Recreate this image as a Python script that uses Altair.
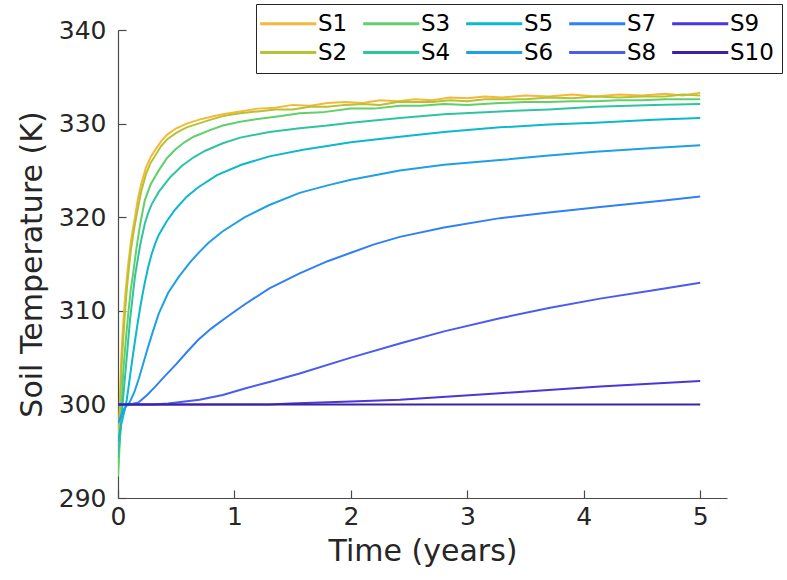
import altair as alt
import pandas as pd

# Soil temperature at ten depths (S1 = shallowest, S10 = deepest)
t_s1 = [0, 0.01, 0.02, 0.03, 0.045, 0.06, 0.075, 0.089, 0.11, 0.13, 0.146, 0.17, 0.20, 0.24, 0.28, 0.32,
        0.37, 0.42, 0.5, 0.59, 0.69, 0.79, 0.9, 1.05, 1.2, 1.35, 1.5, 1.65, 1.8, 1.95, 2.1, 2.25, 2.4,
        2.55, 2.7, 2.85, 3.0, 3.15, 3.3, 3.5, 3.7, 3.9, 4.1, 4.3, 4.5, 4.7, 4.85, 5.0]
k_s1 = [294.0, 298.0, 302.0, 305.5, 308.7, 311.3, 313.4, 315.1, 317.3, 318.9, 320.0, 321.9, 323.6, 325.3,
        326.4, 327.2, 328.1, 328.8, 329.5, 330.0, 330.4, 330.7, 331.0, 331.3, 331.6, 331.7, 332.0, 331.9,
        332.2, 332.3, 332.2, 332.5, 332.4, 332.6, 332.5, 332.8, 332.7, 332.9, 332.8, 333.0, 332.9, 333.1,
        332.9, 333.1, 333.0, 333.2, 333.0, 333.3]

t_s2 = [0, 0.01, 0.02, 0.03, 0.045, 0.06, 0.075, 0.089, 0.11, 0.13, 0.146, 0.17, 0.20, 0.24, 0.28, 0.32,
        0.37, 0.42, 0.5, 0.59, 0.69, 0.79, 0.9, 1.05, 1.2, 1.35, 1.5, 1.65, 1.8, 1.95, 2.1, 2.25, 2.4,
        2.55, 2.7, 2.85, 3.0, 3.15, 3.3, 3.5, 3.7, 3.9, 4.1, 4.3, 4.5, 4.7, 4.85, 5.0]
k_s2 = [293.0, 296.5, 300.5, 304.0, 307.0, 309.8, 312.2, 314.0, 316.4, 318.1, 319.3, 320.9, 322.8, 324.6,
        325.8, 326.6, 327.6, 328.3, 329.0, 329.6, 330.0, 330.4, 330.8, 331.1, 331.3, 331.5, 331.5, 331.8,
        331.8, 332.0, 332.1, 332.0, 332.3, 332.3, 332.3, 332.5, 332.4, 332.6, 332.6, 332.6, 332.8, 332.7,
        332.9, 332.8, 332.9, 332.9, 333.1, 333.0]

t_s3 = [0, 0.02, 0.045, 0.07, 0.089, 0.11, 0.13, 0.16, 0.19, 0.23, 0.28, 0.35, 0.42, 0.49, 0.57, 0.65,
        0.79, 0.9, 1.05, 1.2, 1.4, 1.56, 1.75, 2.0, 2.2, 2.42, 2.6, 2.8, 3.0, 3.28, 3.5, 3.7, 3.9, 4.1,
        4.3, 4.5, 4.7, 5.0]
k_s3 = [292.3, 297.0, 303.5, 307.3, 309.8, 312.3, 314.0, 316.8, 319.2, 321.8, 323.5, 325.0, 326.3, 327.2,
        328.0, 328.6, 329.3, 329.8, 330.2, 330.5, 330.8, 331.1, 331.2, 331.6, 331.6, 331.9, 331.9, 332.1,
        332.0, 332.2, 332.3, 332.3, 332.4, 332.4, 332.5, 332.5, 332.6, 332.6]

t_s4 = [0, 0.02, 0.045, 0.07, 0.103, 0.146, 0.19, 0.23, 0.26, 0.29, 0.35, 0.45, 0.55, 0.65, 0.75, 0.9,
        1.05, 1.3, 1.56, 1.8, 2.0, 2.42, 2.8, 3.28, 3.7, 4.1, 4.6, 5.0]
k_s4 = [294.3, 297.0, 300.8, 304.3, 309.0, 313.7, 317.0, 319.3, 320.5, 321.4, 322.7, 324.3, 325.5, 326.4,
        327.1, 327.9, 328.5, 329.1, 329.5, 329.8, 330.1, 330.6, 331.0, 331.3, 331.5, 331.8, 332.0, 332.1]

t_s5 = [0, 0.03, 0.06, 0.075, 0.09, 0.103, 0.125, 0.146, 0.17, 0.19, 0.21, 0.23, 0.26, 0.29, 0.32, 0.35,
        0.42, 0.49, 0.59, 0.69, 0.85, 1.06, 1.3, 1.59, 2.0, 2.42, 2.8, 3.28, 3.7, 4.1, 4.6, 5.0]
k_s5 = [296.0, 298.0, 299.5, 300.5, 301.8, 303.0, 305.0, 306.8, 308.8, 310.3, 311.7, 313.0, 314.7, 316.1,
        317.2, 318.1, 319.6, 320.8, 322.2, 323.2, 324.5, 325.6, 326.5, 327.2, 328.0, 328.6, 329.1, 329.6,
        329.9, 330.1, 330.4, 330.6]

t_s6 = [0, 0.05, 0.1, 0.14, 0.18, 0.22, 0.26, 0.3, 0.35, 0.43, 0.52, 0.62, 0.7, 0.78, 0.9, 1.09, 1.3,
        1.56, 1.8, 2.0, 2.42, 2.8, 3.28, 3.7, 4.1, 4.6, 5.0]
k_s6 = [298.0, 299.5, 300.2, 301.3, 302.8, 304.5, 306.2, 307.8, 309.7, 311.9, 313.6, 315.2, 316.3, 317.3,
        318.5, 320.0, 321.3, 322.6, 323.4, 324.0, 325.0, 325.6, 326.1, 326.6, 327.0, 327.4, 327.7]

t_s7 = [0, 0.1, 0.175, 0.25, 0.32, 0.40, 0.5, 0.6, 0.69, 0.8, 0.92, 1.09, 1.3, 1.56, 1.8, 2.0, 2.2, 2.42,
        2.8, 3.28, 3.7, 4.14, 4.71, 5.0]
k_s7 = [300.0, 300.0, 300.2, 301.0, 301.9, 303.0, 304.3, 305.7, 306.9, 308.1, 309.2, 310.7, 312.4, 314.0,
        315.3, 316.2, 317.1, 317.9, 318.9, 319.9, 320.5, 321.1, 321.8, 322.2]

t_s8 = [0, 0.3, 0.43, 0.7, 0.9, 1.09, 1.3, 1.56, 2.0, 2.42, 2.8, 3.28, 3.7, 4.14, 4.6, 5.0]
k_s8 = [300.0, 300.0, 300.1, 300.5, 301.0, 301.7, 302.4, 303.3, 305.0, 306.5, 307.8, 309.2, 310.3, 311.3,
        312.2, 313.0]

t_s9 = [0, 1.3, 1.48, 2.0, 2.42, 3.28, 4.14, 5.0]
k_s9 = [300.0, 300.0, 300.1, 300.3, 300.5, 301.2, 301.9, 302.5]

t_s10 = [0, 5.0]
k_s10 = [300.0, 300.0]

series_names = ["S1", "S2", "S3", "S4", "S5", "S6", "S7", "S8", "S9", "S10"]
series_colors = ["#F5B83A", "#B5C332", "#62CF6B", "#2FC4A0", "#0CB8CC",
                 "#1FA0E6", "#2F80F6", "#4A5BF0", "#4A36DC", "#3B23A2"]

times = [t_s1, t_s2, t_s3, t_s4, t_s5, t_s6, t_s7, t_s8, t_s9, t_s10]
temps = [k_s1, k_s2, k_s3, k_s4, k_s5, k_s6, k_s7, k_s8, k_s9, k_s10]

rows = []
for i, (name, ts, ks) in enumerate(zip(series_names, times, temps)):
    for j, (t, k) in enumerate(zip(ts, ks)):
        rows.append({"series": name, "idx": i, "step": j, "time": t, "temp": k})
df = pd.DataFrame(rows)

FONT = "DejaVu Sans"
INK = "#262626"
AXIS_GREY = "#4a4a4a"

x_scale = alt.Scale(domain=[0, 5.23], nice=False, zero=False)
y_scale = alt.Scale(domain=[290, 340], nice=False, zero=False)
color_scale = alt.Scale(domain=series_names, range=series_colors)

base = alt.Chart(df)

# legend swatch: a horizontal stroke drawn to the right of the entry's anchor
swatch = "M-1,0H5"

lines = base.mark_line(strokeWidth=2, clip=True).encode(
    x=alt.X("time:Q", scale=x_scale,
            axis=alt.Axis(orient="bottom", values=[0, 1, 2, 3, 4, 5], ticks=False,
                          grid=False, domainColor=AXIS_GREY, domainWidth=1.2,
                          labelFontSize=25, labelFont=FONT, labelColor=INK,
                          labelPadding=6, labelFlush=False,
                          title="Time (years)", titleFont=FONT,
                          titleFontSize=30, titleFontWeight="normal",
                          titleColor=INK, titlePadding=7, format="d")),
    y=alt.Y("temp:Q", scale=y_scale,
            axis=alt.Axis(orient="left", values=[290, 300, 310, 320, 330, 340],
                          ticks=False, grid=False, domainColor=AXIS_GREY,
                          domainWidth=1.2, labelFontSize=25, labelFont=FONT,
                          labelColor=INK, labelPadding=12,
                          title="Soil Temperature (K)", titleFont=FONT,
                          titleFontSize=30, titleFontWeight="normal",
                          titleColor=INK, titlePadding=11)),
    color=alt.Color("series:N", scale=color_scale,
                    legend=alt.Legend(orient="none", legendX=138, legendY=-26,
                                      columns=5, title=None, symbolType=swatch,
                                      symbolSize=350, symbolStrokeWidth=3,
                                      symbolOffset=-6,
                                      labelFontSize=23, labelFont=FONT,
                                      labelColor="#000000", labelOffset=37,
                                      columnPadding=9, rowPadding=5,
                                      padding=8, strokeColor="#262626",
                                      fillColor="#ffffff")),
    detail="idx:O",
    order="step:Q",
)

# inward-pointing tick marks on the left and bottom edges
ticks = base.mark_line(strokeOpacity=0).encode(
    x=alt.X("time:Q", scale=x_scale,
            axis=alt.Axis(orient="top", offset=-468, values=[0, 1, 2, 3, 4, 5],
                          labels=False, domain=False, grid=False, ticks=True,
                          tickSize=8, tickColor=AXIS_GREY, tickWidth=1.2,
                          title=None)),
    y=alt.Y("temp:Q", scale=y_scale,
            axis=alt.Axis(orient="right", offset=-609,
                          values=[290, 300, 310, 320, 330, 340], labels=False,
                          domain=False, grid=False, ticks=True, tickSize=8,
                          tickColor=AXIS_GREY, tickWidth=1.2, title=None)),
    detail="idx:O",
)

chart = alt.layer(lines, ticks).resolve_axis(
    x="independent", y="independent"
).properties(
    width=609,
    height=468,
    autosize=alt.AutoSizeParams(type="none"),
    padding={"left": 118, "top": 30, "right": 60, "bottom": 82},
    background="#ffffff",
).configure_view(stroke=None)

chart.save("out.html", embed_options={"renderer": "svg", "actions": False})
